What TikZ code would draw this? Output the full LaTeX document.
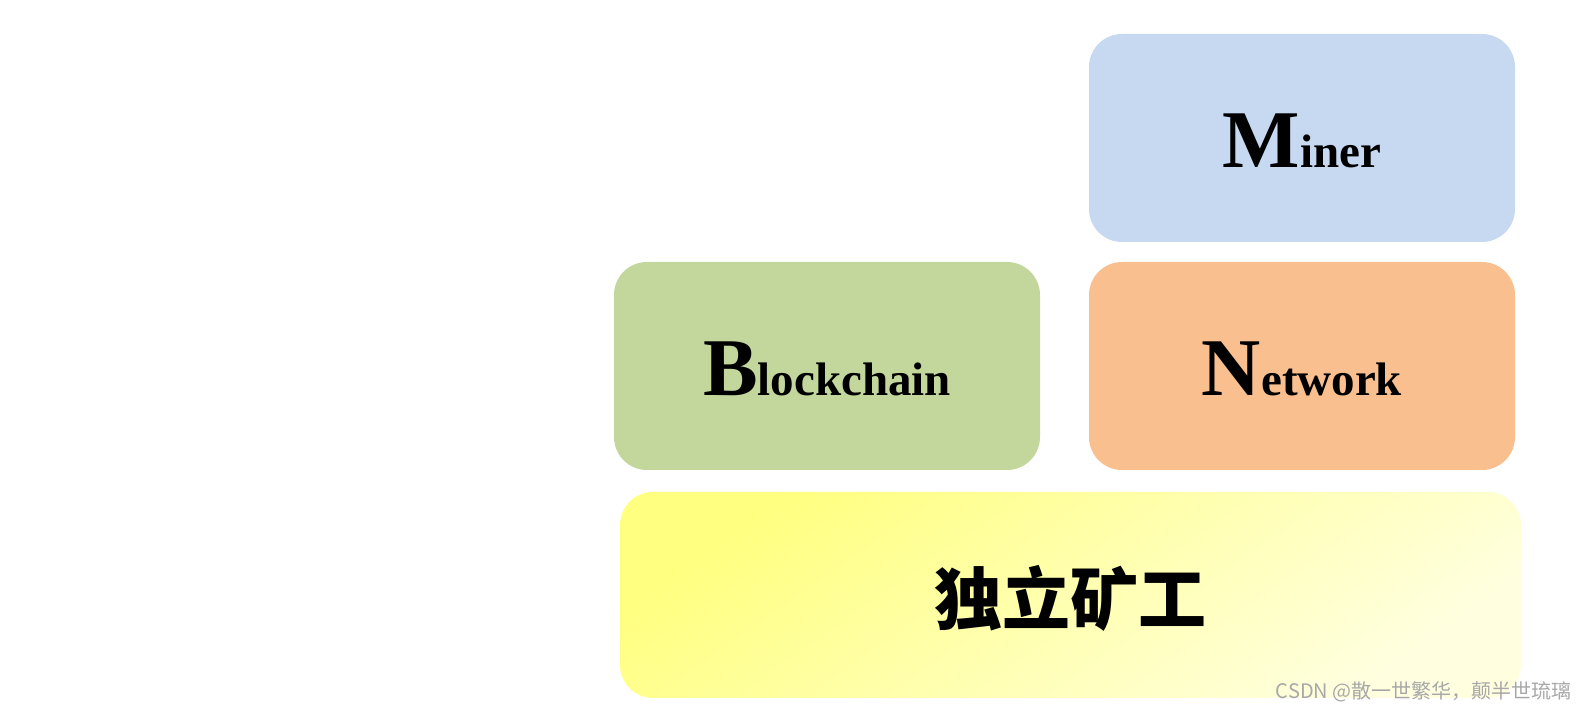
\documentclass[tikz,border=0pt]{standalone}
\usepackage{fontspec}
\usepackage{xcolor}
\usepackage{tikz}
\usetikzlibrary{positioning}
\setmainfont{Liberation Serif}
\newfontfamily\cjk{Noto Sans CJK SC}

\definecolor{minerblue}{HTML}{C6D9F0}
\definecolor{chaingreen}{HTML}{C3D69B}
\definecolor{netorange}{HTML}{F9BF8F}
\definecolor{soloyellowA}{HTML}{FFFF80}
\definecolor{soloyellowB}{HTML}{FFFFE0}
\definecolor{markgray}{HTML}{A8A8A8}

% big first letter, smaller rest, baseline a bit under the middle
\newcommand{\boxword}[2]{\raisebox{-15pt}[0pt][0pt]{\bfseries{\fontsize{41}{41}\selectfont #1}{\fontsize{23.5}{23.5}\selectfont #2}}}

\tikzset{
  layerbox/.style={rounded corners=16.5pt,minimum width=213pt,minimum height=104pt,inner sep=0pt}
}

\begin{document}
\begin{tikzpicture}[x=0.5pt,y=-0.5pt]
		\useasboundingbox (0,0) rectangle (1586,710);
		\node[layerbox,fill=minerblue] (miner) at (1302,138) {\boxword{M}{iner}};
		\node[layerbox,fill=chaingreen] (chain) at (827,366) {\boxword{B}{lockchain}};
		\node[layerbox,fill=netorange] (net) at (1302,366) {\boxword{N}{etwork}};
		\node[layerbox,minimum width=450.5pt,minimum height=103pt,top color=soloyellowA,bottom color=soloyellowB,shading angle=35] (solo) at (1070.5,595) {};
		\node (solotext) at (1070.5,598) {\cjk\bfseries\fontsize{34}{34}\selectfont 独立矿工};
		\node[anchor=east,text=markgray,inner sep=0pt] (mark) at (1572,692) {\cjk\fontsize{10}{10}\selectfont CSDN @散一世繁华，颠半世琉璃};
		\end{tikzpicture}
\end{document}
